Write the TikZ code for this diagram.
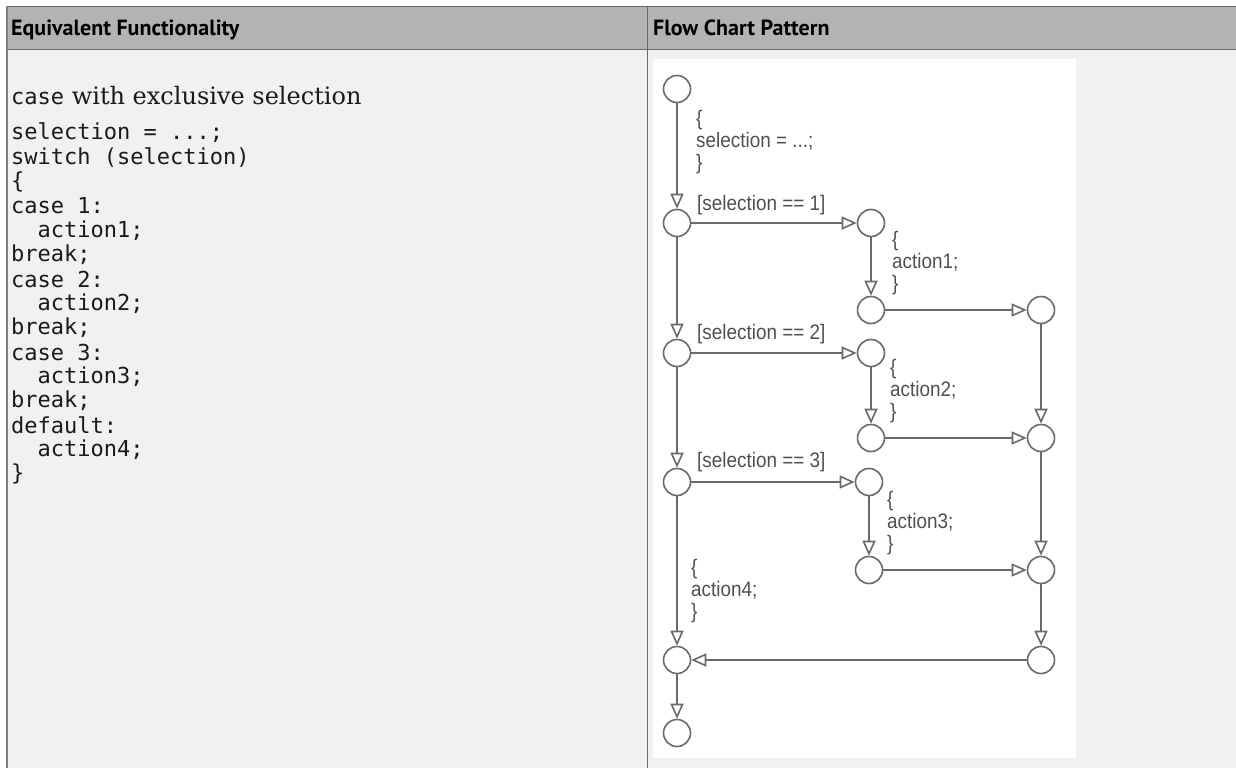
\documentclass[tikz,border=0pt]{standalone}
\usepackage{fontspec}
\usepackage{graphicx}
\usetikzlibrary{arrows.meta}
\setmainfont{DejaVu Serif}
\newfontfamily\hdrfont{PT Sans}
\newfontfamily\codefont{DejaVu Sans Mono}
\newfontfamily\flowfont{Liberation Sans}
\definecolor{hdrfill}{HTML}{B3B3B3}
\definecolor{bodyfill}{HTML}{F1F1F1}
\definecolor{rulecol}{HTML}{6A6A6A}
\definecolor{fcline}{HTML}{6A6A6A}
\definecolor{fctext}{HTML}{505050}
\definecolor{codetext}{HTML}{1A1A1A}
\newcommand{\fclabel}[1]{\scalebox{0.9}[1]{\begin{tabular}{@{}l@{}}#1\end{tabular}}}
\begin{document}
\begin{tikzpicture}[x=1pt,y=-1pt,
  state/.style={circle,draw=fcline,line width=1.6pt,fill=white,minimum size=27pt,inner sep=0pt},
  flow/.style={draw=fcline,line width=1.6pt,-{Triangle[open,length=15pt,width=13pt]}},
  lbl/.style={anchor=west,inner sep=0pt,text=fctext,font=\flowfont\fontsize{21}{22}\selectfont},
  code/.style={anchor=west,inner sep=0pt,text=codetext,font=\codefont\fontsize{22}{24}\selectfont},
  hdr/.style={anchor=base west,inner sep=0pt,text=black,font=\hdrfont\bfseries\fontsize{22}{24}\selectfont}]
\useasboundingbox (0,0) rectangle (1236,768);
\fill[white] (0,0) rectangle (1236,768);
% table
\fill[hdrfill] (7,7) rectangle (1236,49);
\fill[bodyfill] (7,50) rectangle (1236,768);
\draw[rulecol,line width=1.5pt] (6,6.5) -- (1236,6.5);
\draw[rulecol,line width=1.5pt] (7,49.5) -- (1236,49.5);
\draw[gray,line width=2pt] (7,6) -- (7,768);
\draw[rulecol,line width=1.5pt] (647.5,6) -- (647.5,768);
\node[hdr] (h1) at (11,36) {Equivalent Functionality};
\node[hdr] (h2) at (653,36) {Flow Chart Pattern};
% left column text
\node[anchor=west,inner sep=0pt,text=codetext] (intro) at (11,96) {{\codefont\fontsize{22}{24}\selectfont case}\fontsize{24}{28}\selectfont\ with exclusive selection};
\node[code] (k0) at (11,133.0) {selection = ...;};
\node[code] (k1) at (11,157.4) {switch (selection)};
\node[code] (k2) at (11,181.7) {\{};
\node[code] (k3) at (11,206.1) {case 1:};
\node[code] (k4) at (11,230.4) {\ \ action1;};
\node[code] (k5) at (11,254.8) {break;};
\node[code] (k6) at (11,279.1) {case 2:};
\node[code] (k7) at (11,303.5) {\ \ action2;};
\node[code] (k8) at (11,327.8) {break;};
\node[code] (k9) at (11,352.2) {case 3:};
\node[code] (k10) at (11,376.5) {\ \ action3;};
\node[code] (k11) at (11,400.9) {break;};
\node[code] (k12) at (11,425.2) {default:};
\node[code] (k13) at (11,449.6) {\ \ action4;};
\node[code] (k14) at (11,474.0) {\}};
% flow chart panel
\fill[white] (653,59) rectangle (1076,758);
\node[state] (c0) at (677,89) {};
\node[state] (c1) at (677,223) {};
\node[state] (c2) at (677,353) {};
\node[state] (c3) at (677,482) {};
\node[state] (c4) at (677,660) {};
\node[state] (c5) at (677,733) {};
\node[state] (m1a) at (871,223) {};
\node[state] (m1b) at (871,310) {};
\node[state] (m2a) at (871,353) {};
\node[state] (m2b) at (871,438) {};
\node[state] (m3a) at (869,482) {};
\node[state] (m3b) at (869,570) {};
\node[state] (r1) at (1041,310) {};
\node[state] (r2) at (1041,438) {};
\node[state] (r3) at (1041,570) {};
\node[state] (r4) at (1041,660) {};
\draw[flow] (c0) -- (c1);
\draw[flow] (c1) -- (c2);
\draw[flow] (c2) -- (c3);
\draw[flow] (c3) -- (c4);
\draw[flow] (c4) -- (c5);
\draw[flow] (c1) -- (m1a);
\draw[flow] (c2) -- (m2a);
\draw[flow] (c3) -- (m3a);
\draw[flow] (m1a) -- (m1b);
\draw[flow] (m2a) -- (m2b);
\draw[flow] (m3a) -- (m3b);
\draw[flow] (m1b) -- (r1);
\draw[flow] (m2b) -- (r2);
\draw[flow] (m3b) -- (r3);
\draw[flow] (r1) -- (r2);
\draw[flow] (r2) -- (r3);
\draw[flow] (r3) -- (r4);
\draw[flow] (r4) -- (c4);
% labels
\node[lbl] (l0) at (696,143) {\fclabel{\{\\ selection = ...;\\ \}}};
\node[lbl] (l1) at (697,206) {\fclabel{[selection == 1]}};
\node[lbl] (l2) at (697,335) {\fclabel{[selection == 2]}};
\node[lbl] (l3) at (697,463) {\fclabel{[selection == 3]}};
\node[lbl] (a1) at (892,264) {\fclabel{\{\\ action1;\\ \}}};
\node[lbl] (a2) at (890,392) {\fclabel{\{\\ action2;\\ \}}};
\node[lbl] (a3) at (887,524) {\fclabel{\{\\ action3;\\ \}}};
\node[lbl] (a4) at (691,592) {\fclabel{\{\\ action4;\\ \}}};
\end{tikzpicture}
\end{document}
